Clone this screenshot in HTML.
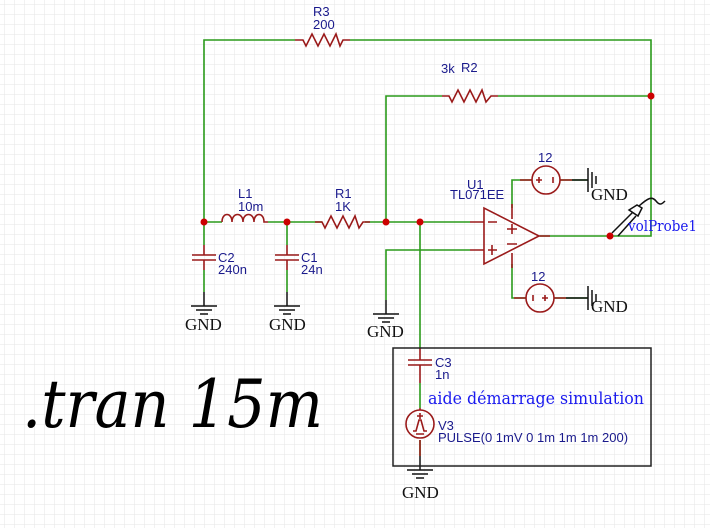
<!DOCTYPE html>
<html><head><meta charset="utf-8"><style>
html,body{margin:0;padding:0;background:#fff}
svg{display:block}
.s{font-family:"Liberation Sans",sans-serif;font-size:13px;fill:#1a1a8c}
.g{font-family:"Liberation Serif",serif;font-size:17px;fill:#111}
</style></head><body>
<svg width="710" height="528" viewBox="0 0 710 528" xmlns="http://www.w3.org/2000/svg">
<defs>
<pattern id="grid" width="10" height="10" patternUnits="userSpaceOnUse" x="4" y="4">
<path d="M10 0H0V10" fill="none" stroke="#e6e6e6" stroke-width="1"/>
</pattern>
<g id="gnd"><path d="M0 0V14M-13 14H13M-8 18H8M-4 22H4" stroke="#111" stroke-width="1.5" fill="none"/></g>
</defs>
<rect width="710" height="528" fill="url(#grid)"/>

<g fill="none" stroke="#2a9a1a" stroke-width="1.6">
<path d="M204 222V40H295M350 40H651V236H540"/>
<path d="M386 222V96H442M498 96H651"/>
<path d="M204 222H222M268 222H322M365 222H470"/>
<path d="M470 250H386V300"/>
<path d="M420 222V348"/>
<path d="M204 222V245M204 270V292M287 222V245M287 270V292"/>
<path d="M512 208V180H532M560 180H588"/>
<path d="M512 264V298H526M554 298H588"/>
<path d="M420 383V408M420 440V456"/>
</g>

<g fill="none" stroke="#9a1a1a" stroke-width="1.6">
<path d="M295 40H303L306 46L312 34L318 46L324 34L330 46L336 34L340 46L343 40H350"/>
<path d="M442 96H449L452 102L458 90L464 102L470 90L476 102L482 90L486 102L491 96H498"/>
<path d="M315 222H322L325 228L331 216L337 228L343 216L349 228L355 216L359 228L363 222H370"/>
<path d="M222 222C222 212 232 212 232 222C232 212 243 212 243 222C243 212 254 212 254 222C254 212 264 212 264 222H268"/>
<path d="M204 245V255M192 255H216M192 260H216M204 260V270"/>
<path d="M287 245V255M275 255H299M275 260H299M287 260V270"/>
<path d="M420 348V360M408 360H432M408 365H432M420 365V383"/>
<path d="M420 440V456"/>
<path d="M484 208V264L539 236Z"/>
<path d="M470 222H484M470 250H484M539 236H550M512 204V219M512 253V268"/>
<path d="M488 222H497M488 250H497M492 245V255M507 229H517M512 224V234M507 244H517"/>
<circle cx="546" cy="180" r="14"/><path d="M532 180H520M560 180H572M536 180H542M539 177V183M553 177V183"/>
<circle cx="540" cy="298" r="14"/><path d="M526 298H514M554 298H566M533 295V301M542 298H548M545 295V301"/>
<circle cx="420" cy="424" r="14"/><path d="M420 408V410M413 431H416L419 420H421L424 431H427M417 416H423M420 413V419M416 434H424"/>
</g>
<g stroke="#111" stroke-width="1.5" fill="none">
<path d="M572 180H588M588 168V192M592 172V188M596 176V184M566 298H588M588 286V310M592 290V306M596 294V302"/>
<path d="M420 456V470M407 470H433M412 474H428M416 478H424"/>
<path d="M612 233L633 212M618 236L636 216M629 210L638 216L642 208L637 205Z M639 206C648 198 652 196 656 201C660 206 662 204 665 201"/>
</g>
<use href="#gnd" x="204" y="292"/><use href="#gnd" x="287" y="292"/><use href="#gnd" x="386" y="300"/>

<g fill="#cc0000">
<circle cx="204" cy="222" r="3.5"/><circle cx="287" cy="222" r="3.5"/><circle cx="386" cy="222" r="3.5"/>
<circle cx="420" cy="222" r="3.5"/><circle cx="651" cy="96" r="3.5"/><circle cx="610" cy="236" r="3.5"/>
</g>

<rect x="393" y="348" width="258" height="118" fill="none" stroke="#222" stroke-width="1.5"/>

<text class="s" x="313" y="16">R3</text><text class="s" x="313" y="29">200</text>
<text class="s" x="441" y="73">3k</text><text class="s" x="461" y="72">R2</text>
<text class="s" x="238" y="198">L1</text><text class="s" x="238" y="211">10m</text>
<text class="s" x="335" y="198">R1</text><text class="s" x="335" y="211">1K</text>
<text class="s" x="218" y="262">C2</text><text class="s" x="218" y="274">240n</text>
<text class="s" x="301" y="262">C1</text><text class="s" x="301" y="274">24n</text>
<text class="s" x="467" y="189">U1</text><text class="s" x="450" y="199">TL071EE</text>
<text class="s" x="538" y="162">12</text><text class="s" x="531" y="281">12</text>
<text class="s" x="435" y="367">C3</text><text class="s" x="435" y="379">1n</text>
<text class="s" x="438" y="430">V3</text><text class="s" x="438" y="442">PULSE(0 1mV 0 1m 1m 1m 200)</text>
<text class="g" x="185" y="330">GND</text><text class="g" x="269" y="330">GND</text><text class="g" x="367" y="337">GND</text>
<text class="g" x="591" y="200">GND</text><text class="g" x="591" y="312">GND</text><text class="g" x="402" y="498">GND</text>
<text x="628" y="231" font-family="DejaVu Serif,Liberation Serif,serif" font-size="15" fill="#1a1aee" textLength="69" lengthAdjust="spacingAndGlyphs">volProbe1</text>
<text x="428" y="404" font-family="DejaVu Serif,Liberation Serif,serif" font-size="17" fill="#1a1aee" textLength="216" lengthAdjust="spacingAndGlyphs">aide démarrage simulation</text>
<text x="22" y="427" font-family="DejaVu Serif,Liberation Serif,serif" font-style="italic" font-size="66" fill="#000" textLength="301" lengthAdjust="spacingAndGlyphs">.tran 15m</text>
</svg>
</body></html>
